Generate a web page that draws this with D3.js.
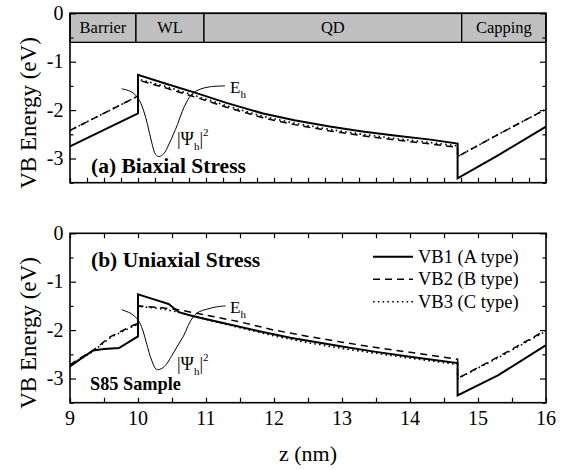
<!DOCTYPE html>
<html>
<head>
<meta charset="utf-8">
<script src="https://cdn.jsdelivr.net/npm/d3@7/dist/d3.min.js"></script>
<style>
  html, body { margin: 0; padding: 0; background: #fff; }
  svg text { font-family: "Liberation Serif", "Times New Roman", serif; fill: #000; }
</style>
</head>
<body>
<svg id="chart" width="566" height="470"></svg>
<script>
// ---- data: valence-band edges (eV) versus growth position z (nm) ----
// (a) biaxial stress
const aVB1 = [[9,-2.75],[10,-2.07],[10,-1.27],[10.4,-1.45],[10.86,-1.65],[11.3,-1.85],[11.84,-2.07],[12.3,-2.21],[12.82,-2.34],[13.3,-2.44],[13.8,-2.53],[14.3,-2.61],[14.7,-2.69],[14.7,-3.41],[15.3,-2.93],[16,-2.34]];
const aVB2 = [[9,-2.42],[10,-1.71],[10,-1.38],[10.4,-1.54],[10.86,-1.74],[11.3,-1.94],[11.84,-2.16],[12.3,-2.30],[12.82,-2.43],[13.3,-2.53],[13.8,-2.62],[14.3,-2.70],[14.7,-2.77],[14.7,-2.96],[15.3,-2.50],[16,-1.98]];
const aVB3 = [[9,-2.42],[10,-1.71],[10,-1.36],[10.4,-1.51],[10.86,-1.71],[11.3,-1.91],[11.84,-2.13],[12.3,-2.27],[12.82,-2.40],[13.3,-2.50],[13.8,-2.59],[14.3,-2.67],[14.7,-2.74],[14.7,-2.96],[15.3,-2.50],[16,-1.98]];
const aPsi = [[9.76,-1.56],[9.9,-1.62],[10.0,-1.75],[10.08,-2.0],[10.14,-2.3],[10.2,-2.66],[10.26,-2.92],[10.31,-2.96],[10.38,-2.9],[10.45,-2.72],[10.52,-2.5],[10.58,-2.3],[10.65,-2.03],[10.72,-1.82],[10.8,-1.66],[10.91,-1.57],[11.05,-1.52],[11.28,-1.50]];

// (b) uniaxial stress, S85 sample
const bVB1 = [[9,-2.75],[9.15,-2.6],[9.34,-2.42],[9.5,-2.39],[9.72,-2.37],[10,-2.13],[10,-1.26],[10.2,-1.35],[10.45,-1.46],[10.6,-1.63],[10.8,-1.71],[11.3,-1.87],[11.8,-2.03],[12.24,-2.16],[13,-2.34],[13.5,-2.45],[14,-2.55],[14.7,-2.68],[14.7,-3.35],[15.3,-2.93],[16,-2.31]];
const bVB2 = [[9,-2.72],[9.1,-2.62],[9.34,-2.42],[9.59,-2.14],[9.74,-2.03],[9.93,-1.90],[10,-1.86],[10,-1.50],[10.3,-1.53],[10.6,-1.58],[11,-1.69],[11.5,-1.83],[12,-2.00],[12.5,-2.13],[13,-2.25],[13.5,-2.36],[14,-2.46],[14.7,-2.60],[14.7,-3.00],[15.3,-2.55],[16,-2.00]];
const bVB3 = [[9,-2.74],[9.1,-2.64],[9.34,-2.44],[9.59,-2.16],[9.74,-2.05],[9.93,-1.92],[10,-1.88],[10,-1.51],[10.3,-1.55],[10.6,-1.63],[11,-1.78],[11.5,-1.95],[12,-2.12],[12.5,-2.26],[13,-2.38],[13.5,-2.48],[14,-2.58],[14.7,-2.71],[14.7,-3.00],[15.3,-2.57],[16,-2.02]];
const bPsi = [[9.76,-1.58],[9.9,-1.66],[10.0,-1.79],[10.07,-2.0],[10.13,-2.3],[10.2,-2.62],[10.27,-2.81],[10.34,-2.80],[10.42,-2.7],[10.5,-2.52],[10.58,-2.33],[10.67,-2.12],[10.74,-1.9],[10.81,-1.73],[10.9,-1.62],[11.01,-1.57],[11.15,-1.52],[11.29,-1.50]];

// layer regions shown in the band at the top of panel (a)
const layerNames = ["Barrier", "WL", "QD", "Capping"];
const layerEdges = [9, 9.97, 10.97, 14.76, 16];

const seriesNames = ["VB1 (A type)", "VB2 (B type)", "VB3 (C type)"];
const xTickLabels = [9, 10, 11, 12, 13, 14, 15, 16];
const yTickLabels = [0, -1, -2, -3];

// ---- layout ----
const svg = d3.select("#chart");
const X0 = 70, X1 = 546;
const panels = [
  { top: 13.3, bottom: 182.7, vb: [aVB1, aVB2, aVB3], psi: aPsi, minorX: 0.25,
    title: "(a) Biaxial Stress", titlePos: [91, 173], band: true, xLabels: false,
    ehPos: [230, 93], psiPos: [177, 145] },
  { top: 233.3, bottom: 402.7, vb: [bVB1, bVB2, bVB3], psi: bPsi, minorX: 0.5,
    title: "(b) Uniaxial Stress", titlePos: [91, 267], band: false, xLabels: true,
    ehPos: [230, 313], psiPos: [177, 370] }
];

const x = d3.scaleLinear().domain([9, 16]).range([X0, X1]);
const styles = [
  { w: 2, dash: null },
  { w: 1.5, dash: "7,5" },
  { w: 1.6, dash: "1.6,3.2" }
];

panels.forEach((p, pi) => {
  const y = d3.scaleLinear().domain([-3.5, 0]).range([p.bottom, p.top]);
  const g = svg.append("g");

  // data lines
  const line = d3.line().x(d => x(d[0])).y(d => y(d[1]));
  p.vb.forEach((s, i) => {
    g.append("path").datum(s).attr("d", line)
      .attr("fill", "none").attr("stroke", "#000")
      .attr("stroke-width", styles[i].w)
      .attr("stroke-dasharray", styles[i].dash)
      .attr("stroke-linejoin", "miter");
  });

  // hole wavefunction probability
  const psiLine = d3.line().x(d => x(d[0])).y(d => y(d[1])).curve(d3.curveCatmullRom);
  g.append("path").datum(p.psi).attr("d", psiLine)
    .attr("fill", "none").attr("stroke", "#000").attr("stroke-width", 1);

  // layer band
  if (p.band) {
    const bandY = y(-0.6);
    layerNames.forEach((name, i) => {
      const xa = x(layerEdges[i]), xb = x(layerEdges[i + 1]);
      g.append("rect").attr("x", xa).attr("y", y(0)).attr("width", xb - xa).attr("height", bandY - y(0))
        .attr("fill", "#c0c0c0").attr("stroke", "#000").attr("stroke-width", 1.3);
      g.append("text").attr("x", (xa + xb) / 2).attr("y", (y(0) + bandY) / 2 + 5.5)
        .attr("text-anchor", "middle").attr("font-size", 16.5).text(name);
    });
  }

  // axes with inward ticks
  const xb = d3.axisBottom(x).tickValues(d3.range(9, 16.001, p.minorX))
    .tickSize(-5).tickFormat("");
  g.append("g").attr("transform", `translate(0,${p.bottom})`).call(xb);
  const xt = d3.axisTop(x).tickValues(d3.range(9, 16.001, 0.5)).tickSize(-5).tickFormat("");
  if (!p.band) g.append("g").attr("transform", `translate(0,${p.top})`).call(xt);

  const yMaj = d3.axisLeft(y).tickValues(yTickLabels).tickSize(-6).tickFormat("");
  const yMin = d3.axisLeft(y).tickValues([-0.5, -1.5, -2.5, -3.5]).tickSize(-3.5).tickFormat("");
  g.append("g").attr("transform", `translate(${X0},0)`).call(yMaj);
  g.append("g").attr("transform", `translate(${X0},0)`).call(yMin);
  const yMajR = d3.axisRight(y).tickValues(yTickLabels).tickSize(-6).tickFormat("");
  const yMinR = d3.axisRight(y).tickValues([-0.5, -1.5, -2.5, -3.5]).tickSize(-3.5).tickFormat("");
  g.append("g").attr("transform", `translate(${X1},0)`).call(yMajR);
  g.append("g").attr("transform", `translate(${X1},0)`).call(yMinR);
  g.selectAll(".domain").remove();
  g.selectAll(".tick line").attr("stroke", "#000").attr("stroke-width", 1.2);

  // frame
  g.append("rect").attr("x", X0).attr("y", p.top).attr("width", X1 - X0).attr("height", p.bottom - p.top)
    .attr("fill", "none").attr("stroke", "#000").attr("stroke-width", 1.6);

  // y tick labels
  yTickLabels.forEach(v => {
    g.append("text").attr("x", 63.5).attr("y", y(v) + 6.5).attr("text-anchor", "end")
      .attr("font-size", 20).text(v === 0 ? "0" : "-" + Math.abs(v));
  });

  if (p.xLabels) {
    xTickLabels.forEach(v => {
      g.append("text").attr("x", x(v)).attr("y", p.bottom + 22.5).attr("text-anchor", "middle")
        .attr("font-size", 20).text(v);
    });
  }

  // y axis title
  g.append("text").attr("transform", `translate(36,${pi === 0 ? 113 : 333}) rotate(-90)`)
    .attr("text-anchor", "middle").attr("font-size", 23).text("VB Energy (eV)");

  // panel title
  g.append("text").attr("x", p.titlePos[0]).attr("y", p.titlePos[1])
    .attr("font-size", 21.5).attr("font-weight", "bold").text(p.title);

  // annotations
  const eh = g.append("text").attr("x", p.ehPos[0]).attr("y", p.ehPos[1]).attr("font-size", 17);
  eh.append("tspan").text("E");
  eh.append("tspan").attr("font-size", 11).attr("dy", 5).text("h");
  const ps = g.append("text").attr("x", p.psiPos[0]).attr("y", p.psiPos[1]).attr("font-size", 18);
  ps.append("tspan").text("|\u03A8");
  ps.append("tspan").attr("font-size", 11).attr("dy", 5).text("h");
  ps.append("tspan").attr("dy", -5).text("|");
  ps.append("tspan").attr("font-size", 11).attr("dy", -9).text("2");
});

// "S85 Sample" tag
svg.append("text").attr("x", 90).attr("y", 390).attr("font-size", 18.3).attr("font-weight", "bold").text("S85 Sample");

// legend
const legend = svg.append("g");
seriesNames.forEach((name, i) => {
  const ly = 256.7 + i * 22.5;
  legend.append("line").attr("x1", 373).attr("x2", 413).attr("y1", ly).attr("y2", ly)
    .attr("stroke", "#000").attr("stroke-width", styles[i].w).attr("stroke-dasharray", styles[i].dash);
  legend.append("text").attr("x", 418).attr("y", ly + 6).attr("font-size", 18.5).text(name);
});

// x axis title
svg.append("text").attr("x", (X0 + X1) / 2).attr("y", 461).attr("text-anchor", "middle")
  .attr("font-size", 22).text("z (nm)");
</script>
</body>
</html>
